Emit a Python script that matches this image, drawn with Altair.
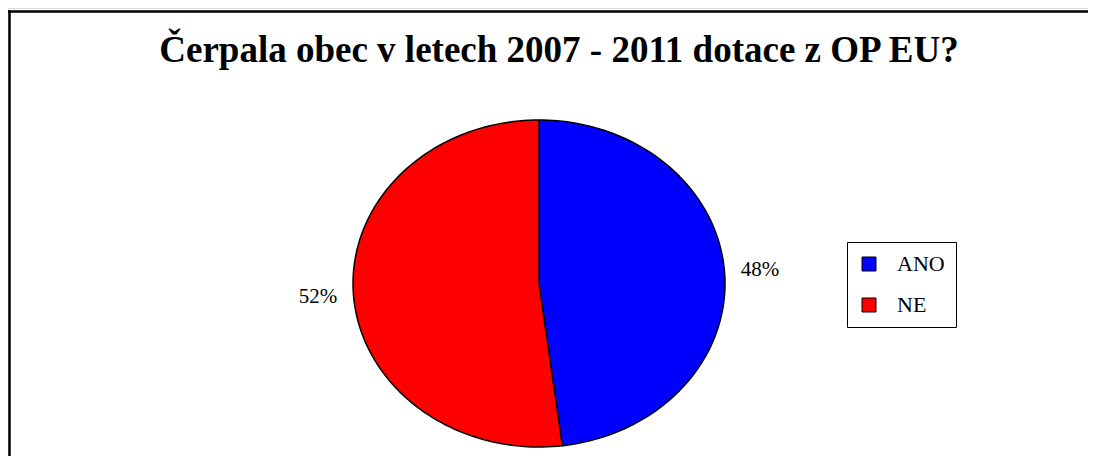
import altair as alt
import pandas as pd

title_text = "Čerpala obec v letech 2007 - 2011 dotace z OP EU?"
categories = ["ANO", "NE"]
values = [48, 52]
order_idx = [1, 2]
colors = ["#0000FF", "#FF0000"]

df = pd.DataFrame({"kategorie": categories, "hodnota": values, "poradi": order_idx})

N = 120
SERIF = "Liberation Serif, Times New Roman, serif"

xscale = alt.Scale(domain=[-1, 1], range=[345, 717])
yscale = alt.Scale(domain=[-1, 1], range=[439, 112])

base = (
    alt.Chart(df)
    .transform_joinaggregate(total="sum(hodnota)")
    .transform_window(cum="sum(hodnota)", sort=[alt.SortField("poradi")], frame=[None, 0])
    .transform_calculate(
        a0="2*PI*(datum.cum - datum.hodnota)/datum.total",
        a1="2*PI*datum.cum/datum.total",
    )
)

slices = (
    base.transform_calculate(t=f"sequence(-1, {N + 2})")
    .transform_flatten(["t"])
    .transform_calculate(
        f=f"(datum.t < 0 || datum.t > {N}) ? 0 : 1",
        ang=f"datum.a0 + clamp(datum.t, 0, {N})/{N}*(datum.a1 - datum.a0)",
    )
    .transform_calculate(
        px="datum.f*sin(datum.ang)",
        py="datum.f*cos(datum.ang)",
    )
    .mark_line(stroke="black", strokeWidth=1.5, strokeJoin="round", interpolate="linear")
    .encode(
        x=alt.X("px:Q", scale=xscale, axis=None),
        y=alt.Y("py:Q", scale=yscale, axis=None),
        order=alt.Order("t:Q"),
        detail="kategorie:N",
        fill=alt.Fill(
            "kategorie:N",
            scale=alt.Scale(domain=categories, range=colors),
            legend=alt.Legend(
                title=None,
                orient="none",
                legendX=839,
                legendY=234,
                padding=11,
                rowPadding=19,
                strokeColor="black",
                symbolType="square",
                symbolSize=196,
                symbolStrokeColor="black",
                symbolStrokeWidth=1,
                symbolOpacity=1,
                labelFont=SERIF,
                labelFontSize=22,
                labelColor="black",
                labelOffset=17,
            ),
        ),
    )
)

labels = (
    base.transform_calculate(
        mid="(datum.a0 + datum.a1)/2",
    )
    .transform_calculate(
        lx="1.19*sin(datum.mid)",
        ly="1.35*cos(datum.mid)",
        pct="format(datum.hodnota/datum.total, '.0%')",
    )
    .mark_text(font=SERIF, fontSize=21, baseline="middle", align="center", color="black")
    .encode(
        x=alt.X("lx:Q", scale=xscale, axis=None),
        y=alt.Y("ly:Q", scale=yscale, axis=None),
        text="pct:N",
    )
)

one = pd.DataFrame({"nadpis": [title_text]})

frame_top = (
    alt.Chart(one)
    .mark_rule(stroke="black", strokeWidth=2.5)
    .encode(x=alt.value(0), x2=alt.value(1080), y=alt.value(3.5))
)
frame_left = (
    alt.Chart(one)
    .mark_rule(stroke="black", strokeWidth=2.5)
    .encode(x=alt.value(1.5), y=alt.value(2.25), y2=alt.value(448))
)

title = (
    alt.Chart(one)
    .mark_text(font=SERIF, fontSize=37, fontWeight="bold", baseline="middle", align="center", color="black")
    .encode(x=alt.value(551), y=alt.value(43), text="nadpis:N")
)

chart = (
    alt.layer(frame_top, frame_left, slices, labels, title)
    .properties(width=1080, height=448, autosize=alt.AutoSizeParams(type="none"), padding=0)
    .configure_view(strokeWidth=0, stroke="transparent")
    .configure(background="white")
)

chart.save("out.html", embed_options={"renderer": "svg", "actions": False})
